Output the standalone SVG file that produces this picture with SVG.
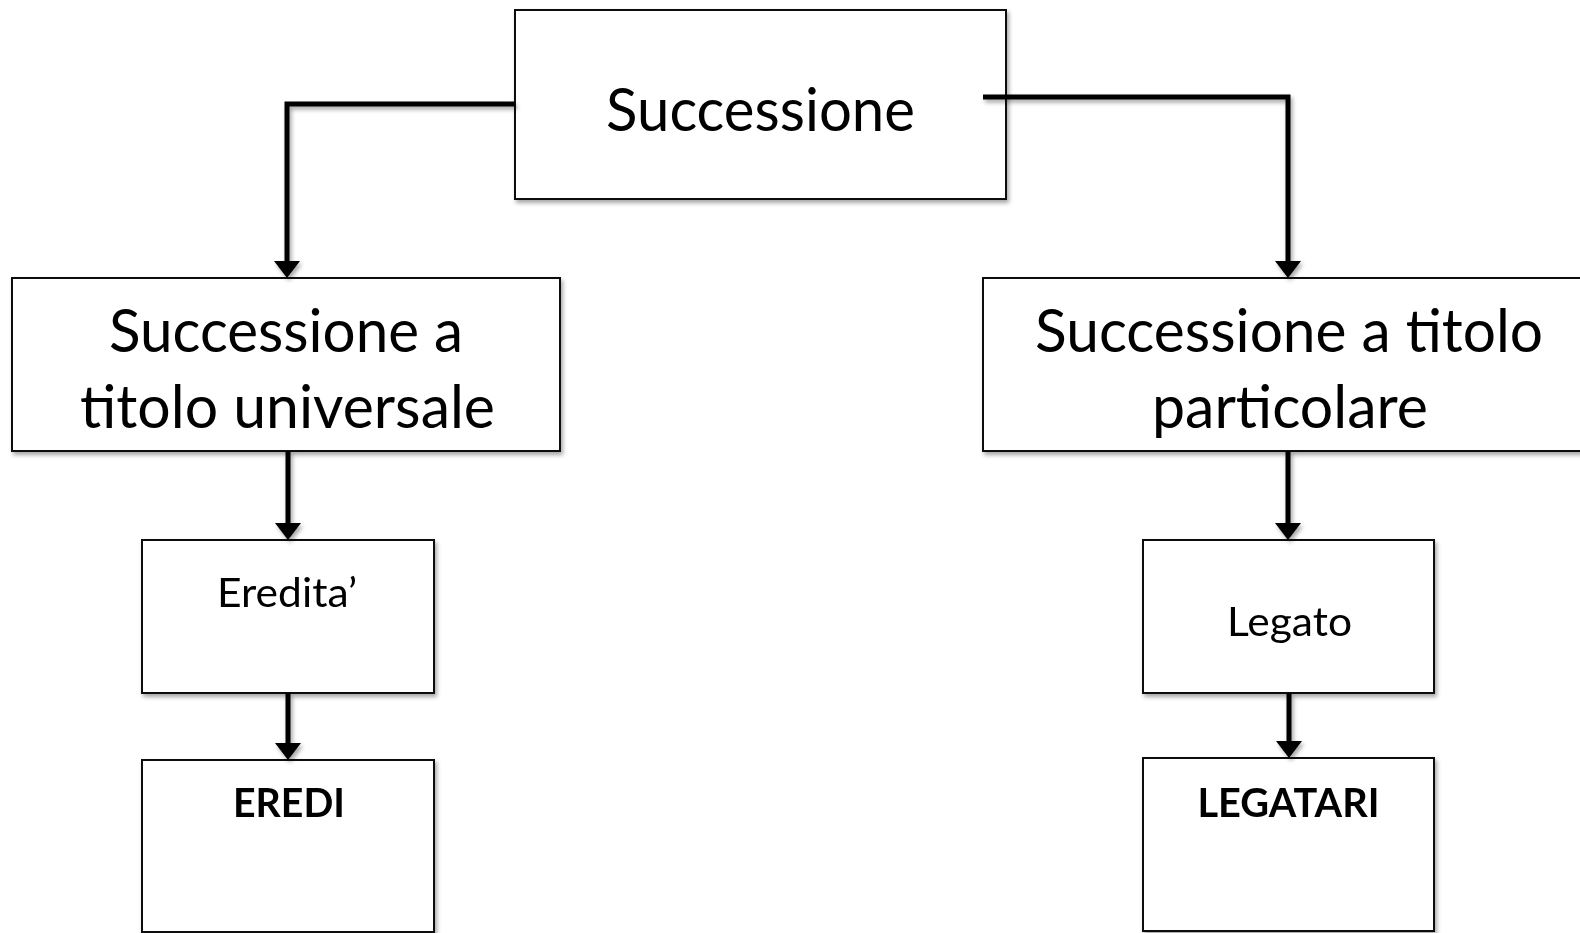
<svg xmlns="http://www.w3.org/2000/svg" width="1580" height="933" viewBox="0 0 1580 933">
  <style>
    .box { fill: #ffffff; stroke: #111111; stroke-width: 2; }
    .lbl { font-family: Lato, "Open Sans", "Liberation Sans", sans-serif; fill: #000000; text-anchor: middle; }
    .big { font-size: 60px; }
    .small { font-size: 41px; }
    .bold { font-weight: bold; }
    .conn { fill: none; stroke: #000000; stroke-width: 5; stroke-linejoin: miter; }
  </style>
  <defs>
    <filter id="shadow" x="-5%" y="-5%" width="115%" height="120%">
      <feDropShadow dx="2" dy="3" stdDeviation="2" flood-color="#000000" flood-opacity="0.35"/>
    </filter>
    <marker id="arrow" markerUnits="userSpaceOnUse" markerWidth="18" markerHeight="28" viewBox="0 -14 18 28" refX="0" refY="0" orient="auto">
      <path d="M0,-13 L17,0 L0,13 Z" fill="#000000"/>
    </marker>
  </defs>
  <rect width="1580" height="933" fill="#ffffff"/>

  <g id="node-successione" filter="url(#shadow)">
    <rect class="box" x="515" y="10" width="491" height="189"/>
    <text class="lbl big" x="760.5" y="131" textLength="309" lengthAdjust="spacingAndGlyphs">Successione</text>
  </g>

  <g id="node-universale" filter="url(#shadow)">
    <rect class="box" x="12" y="278" width="548" height="173"/>
    <text class="lbl big" x="286" y="352" textLength="354" lengthAdjust="spacingAndGlyphs">Successione a</text>
    <text class="lbl big" x="287.5" y="428" textLength="415" lengthAdjust="spacingAndGlyphs">titolo universale</text>
  </g>

  <g id="node-particolare" filter="url(#shadow)">
    <rect class="box" x="983" y="278" width="620" height="173"/>
    <text class="lbl big" x="1289" y="352" textLength="508" lengthAdjust="spacingAndGlyphs">Successione a titolo</text>
    <text class="lbl big" x="1290" y="428" textLength="276" lengthAdjust="spacingAndGlyphs">particolare</text>
  </g>

  <g id="node-eredita" filter="url(#shadow)">
    <rect class="box" x="142" y="540" width="292" height="153"/>
    <text class="lbl small" x="287" y="607" textLength="140" lengthAdjust="spacingAndGlyphs">Eredita’</text>
  </g>

  <g id="node-legato" filter="url(#shadow)">
    <rect class="box" x="1143" y="540" width="291" height="153"/>
    <text class="lbl small" x="1289.5" y="636" textLength="125" lengthAdjust="spacingAndGlyphs">Legato</text>
  </g>

  <g id="node-eredi" filter="url(#shadow)">
    <rect class="box" x="142" y="760" width="292" height="172"/>
    <text class="lbl small bold" x="289" y="817" textLength="112" lengthAdjust="spacingAndGlyphs">EREDI</text>
  </g>

  <g id="node-legatari" filter="url(#shadow)">
    <rect class="box" x="1143" y="758" width="291" height="173"/>
    <text class="lbl small bold" x="1288.5" y="817" textLength="182" lengthAdjust="spacingAndGlyphs">LEGATARI</text>
  </g>

  <g id="connectors" filter="url(#shadow)">
    <path class="conn" d="M515,104 H287 V261" marker-end="url(#arrow)"/>
    <path class="conn" d="M983,97 H1288 V261" marker-end="url(#arrow)"/>
    <path class="conn" d="M288,451 V523" marker-end="url(#arrow)"/>
    <path class="conn" d="M288,693 V743" marker-end="url(#arrow)"/>
    <path class="conn" d="M1288,451 V523" marker-end="url(#arrow)"/>
    <path class="conn" d="M1289,693 V741" marker-end="url(#arrow)"/>
  </g>
</svg>
